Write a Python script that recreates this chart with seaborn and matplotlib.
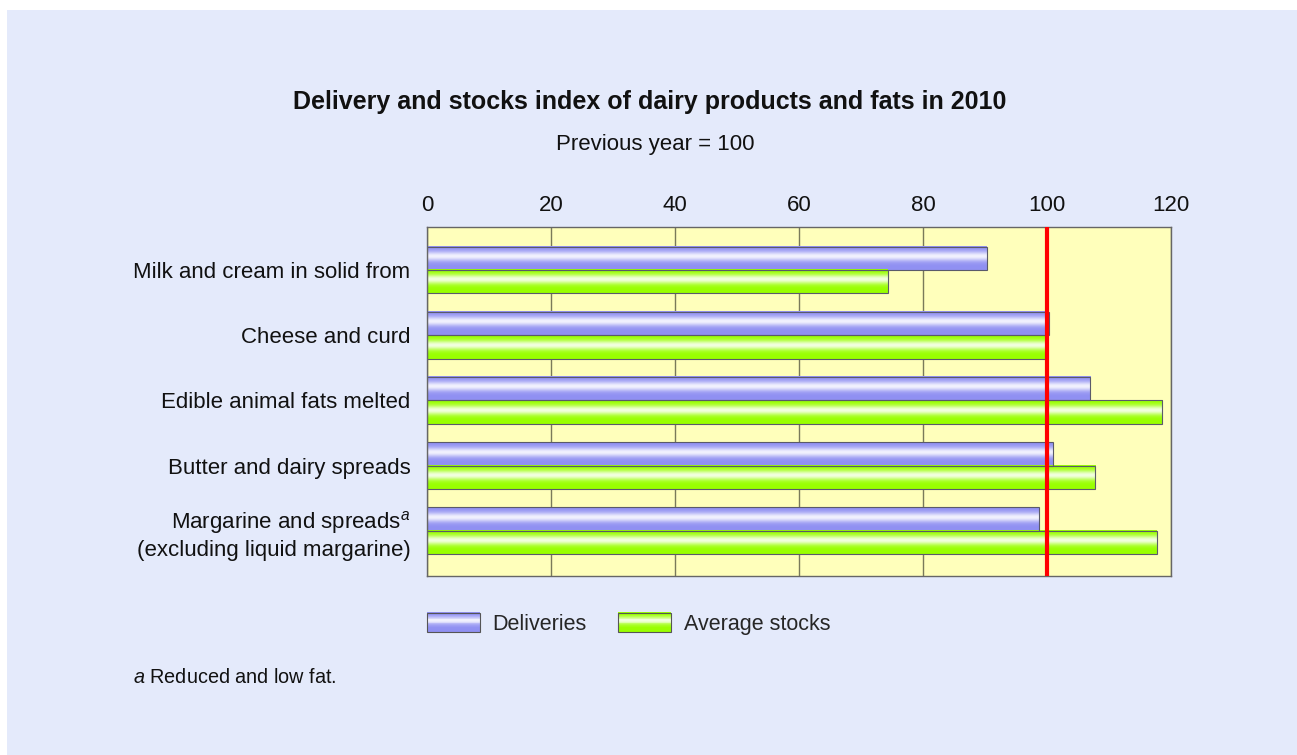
import numpy as np
import pandas as pd
import matplotlib
matplotlib.use('Agg')
import matplotlib.pyplot as plt
import seaborn as sns
from matplotlib.patches import Patch, Rectangle
from matplotlib.legend_handler import HandlerBase
from matplotlib.colors import to_rgb

categories = ['Milk and cream in solid from',
              'Cheese and curd',
              'Edible animal fats melted',
              'Butter and dairy spreads',
              'Margarine and spreads$^{a}$\n(excluding liquid margarine)']
deliveries = [90.3, 100.3, 107.0, 100.9, 98.7]
avg_stocks = [74.3, 99.8, 118.6, 107.8, 117.7]
series = ['Deliveries', 'Average stocks']
x_ticks = [0, 20, 40, 60, 80, 100, 120]

colors = {'Deliveries': '#9090f2', 'Average stocks': '#99ff00'}

df = pd.DataFrame({
    'category': categories * 2,
    'value': deliveries + avg_stocks,
    'series': [series[0]] * len(categories) + [series[1]] * len(categories),
})

sns.set_theme(style='white')
plt.rcParams['font.family'] = ['Liberation Sans', 'DejaVu Sans']
plt.rcParams['mathtext.fontset'] = 'custom'
plt.rcParams['mathtext.rm'] = 'Liberation Sans'
plt.rcParams['mathtext.it'] = 'Liberation Sans:italic'


def gradient(base, n=64):
    # white stripe a bit above the middle, like the glossy bars
    s = np.linspace(0, 1, n)
    f = 0.88 * np.exp(-((s - 0.42) / 0.2) ** 2)
    c = np.array(to_rgb(base))
    return c[None, :] * (1 - f[:, None]) + f[:, None]


class GradientHandler(HandlerBase):
    def create_artists(self, legend, orig_handle, xdescent, ydescent,
                       width, height, fontsize, trans):
        g = gradient(orig_handle.get_facecolor(), 24)
        n = len(g)
        arts = []
        for i, col in enumerate(g):
            y = -ydescent + height * (n - 1 - i) / n
            arts.append(Rectangle((-xdescent, y), width, height / n + 0.3,
                                  facecolor=col, edgecolor='none', transform=trans))
        arts.append(Rectangle((-xdescent, -ydescent), width, height,
                              facecolor='none', edgecolor='#555555', lw=0.8,
                              transform=trans))
        return arts


fig = plt.figure(figsize=(12.97, 7.55), dpi=100, facecolor='white')
fig.patches.append(Rectangle((7 / 1297, 0), 1, 745 / 755, transform=fig.transFigure,
                             facecolor='#e4eafb', edgecolor='none', zorder=-10))

ax = fig.add_axes([0.3292, 0.2371, 0.5736, 0.4623])
ax.set_facecolor('#ffffbb')

sns.barplot(data=df, x='value', y='category', hue='series', orient='h',
            palette=colors, width=0.72, saturation=1, edgecolor='#5a5a6a',
            linewidth=0.8, legend=False, ax=ax, zorder=2.2)

# glossy fill for every bar
for bar in list(ax.patches):
    x0, y0 = bar.get_x(), bar.get_y()
    w, h = bar.get_width(), bar.get_height()
    g = gradient(bar.get_facecolor())
    ax.imshow(g[:, None, :], extent=[x0, x0 + w, y0 + h, y0], origin='upper',
              aspect='auto', interpolation='bilinear', zorder=2.1)
    bar.set_facecolor('none')

ax.axvline(100, color='#ff0000', lw=3, zorder=3)

ax.set_xlim(0, 120)
ax.set_ylim(4.69, -0.66)
ax.set_xticks(x_ticks)
ax.grid(axis='x', color='#7a7a5a', lw=1, zorder=0)
ax.grid(axis='y', visible=False)
ax.set_axisbelow(True)
ax.xaxis.tick_top()
ax.tick_params(axis='x', length=0, pad=8, labelsize=16, labelcolor='#111111')
ax.tick_params(axis='y', length=0, pad=12, labelsize=16, labelcolor='#111111')
ax.set_xlabel('')
ax.set_ylabel('')
for sp in ax.spines.values():
    sp.set_color('#666666')
    sp.set_linewidth(1)

handles = [Patch(facecolor=colors[s], edgecolor='#555555', label=s) for s in series]
fig.legend(handles=handles, handler_map={Patch: GradientHandler()},
           loc='center left', bbox_to_anchor=(0.3292, 0.174), ncol=2,
           frameon=False, fontsize=15.5, handlelength=2.45, handleheight=1.0,
           handletextpad=0.6, columnspacing=1.45, borderpad=0, borderaxespad=0)

fig.text(0.501, 0.865, 'Delivery and stocks index of dairy products and fats in 2010',
         ha='center', va='center', fontsize=18, fontweight='bold', color='#111111')
fig.text(0.505, 0.809, 'Previous year = 100', ha='center', va='center',
         fontsize=16, color='#111111')
fig.text(0.1025, 0.103, '$a$ Reduced and low fat.', ha='left', va='center',
         fontsize=14.3, color='#111111')

fig.savefig('out.png', dpi=100, facecolor=fig.get_facecolor())
